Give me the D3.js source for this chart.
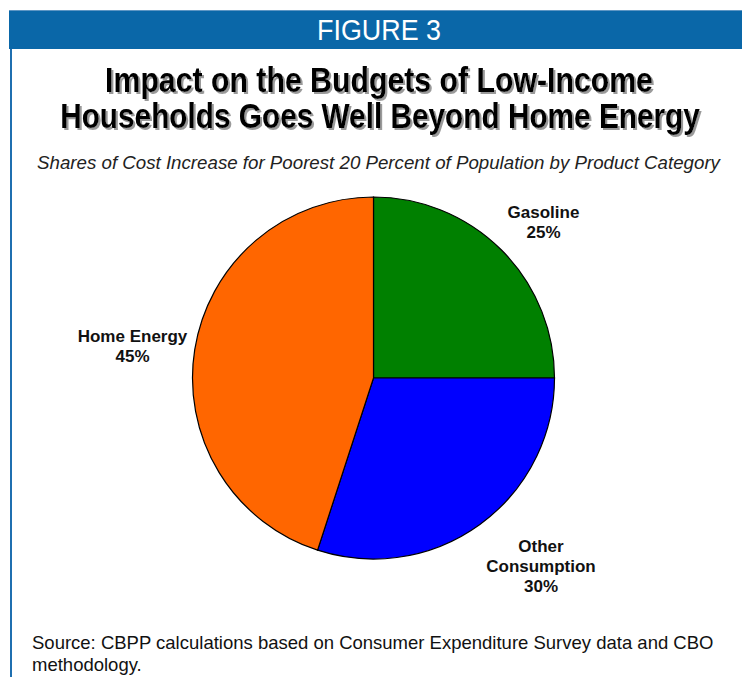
<!DOCTYPE html>
<html><head><meta charset="utf-8">
<script src="https://cdn.jsdelivr.net/npm/d3@7"></script>
<style>
html,body{margin:0;padding:0;background:#fff;}
svg{display:block;}
</style></head>
<body>
<svg id="chart" width="742" height="677"></svg>
<script>
const categories = ["Gasoline", "Other Consumption", "Home Energy"];
const shares = [25, 30, 45];
const colors = ["#008000", "#0000ff", "#ff6600"];
const labelLines = [["Gasoline", "25%"], ["Other", "Consumption", "30%"], ["Home Energy", "45%"]];

const svg = d3.select("#chart");
const W = 742, H = 677;
const lf = "'Liberation Sans',Arial,sans-serif";

// Shadow filter for title
const f = svg.append("defs").append("filter").attr("id", "shadow")
  .attr("x", "-5%").attr("y", "-20%").attr("width", "110%").attr("height", "140%");
f.append("feOffset").attr("in", "SourceAlpha").attr("dx", 2).attr("dy", 1.6).attr("result", "off");
f.append("feFlood").attr("flood-color", "#9a9a9a").attr("result", "col");
f.append("feComposite").attr("in", "col").attr("in2", "off").attr("operator", "in").attr("result", "sh");
const m = f.append("feMerge");
m.append("feMergeNode").attr("in", "sh");
m.append("feMergeNode").attr("in", "SourceGraphic");

// Header band and left border
svg.append("rect").attr("x", 9).attr("y", 10).attr("width", W - 9).attr("height", 39).attr("fill", "#0a67a8");
svg.append("line").attr("x1", 9).attr("x2", W).attr("y1", 10.5).attr("y2", 10.5).attr("stroke", "#5e96c4").attr("stroke-width", 1);
svg.append("rect").attr("x", 10).attr("y", 49).attr("width", 2).attr("height", H - 49).attr("fill", "#1f6fb0");

// Condensed text helper: fit natural width to target, stretch vertically to target size
function condensed(txt, cx, y, size, width, attrs) {
  const t = svg.append("text").attr("text-anchor", "middle")
    .attr("font-family", lf).attr("font-size", size);
  Object.entries(attrs).forEach(([k, v]) => t.attr(k, v));
  t.text(txt);
  const nat = t.node().getComputedTextLength();
  const s = size * width / nat;
  t.attr("font-size", s).attr("transform", `translate(${cx},${y}) scale(1,${size / s})`);
  return t;
}

condensed("FIGURE 3", 379, 40, 30, 124, { fill: "#fff" });

// Title with shadow
const titleLines = ["Impact on the Budgets of Low-Income", "Households Goes Well Beyond Home Energy"];
const titleCX = [379, 380], titleW = [548, 640];
titleLines.forEach((t, i) => {
  condensed(t, titleCX[i], 92 + i * 36, 35, titleW[i],
    { fill: "#000", "font-weight": "bold", filter: "url(#shadow)" });
});

condensed("Shares of Cost Increase for Poorest 20 Percent of Population by Product Category",
  378.5, 169, 17.5, 683, { fill: "#222", "font-style": "italic" });

// Pie
const cx = 373.5, cy = 378, r = 181;
const pie = d3.pie().sort(null).value(d => d)(shares);
const arc = d3.arc().innerRadius(0).outerRadius(r);
const g = svg.append("g").attr("transform", `translate(${cx},${cy})`);
g.selectAll("path").data(pie).join("path")
  .attr("d", arc).attr("fill", (d, i) => colors[i])
  .attr("stroke", "#000").attr("stroke-width", 1.2);

// Labels
const labelPos = [[543.5, 217.5], [541, 551.5], [132.5, 341.5]];
labelLines.forEach((lines, i) => {
  const t = svg.append("text").attr("text-anchor", "middle").attr("font-family", lf)
    .attr("font-weight", "bold").attr("font-size", 17).attr("fill", "#111");
  lines.forEach((l, j) => {
    t.append("tspan").attr("x", labelPos[i][0]).attr("y", labelPos[i][1] + j * 20).text(l);
  });
});

// Source
const src = ["Source: CBPP calculations based on Consumer Expenditure Survey data and CBO", "methodology."];
src.forEach((s, i) => {
  svg.append("text").attr("x", 32).attr("y", 649 + i * 22).attr("font-family", lf)
    .attr("font-size", 18.5).attr("fill", "#111").text(s);
});
</script>
</body></html>
